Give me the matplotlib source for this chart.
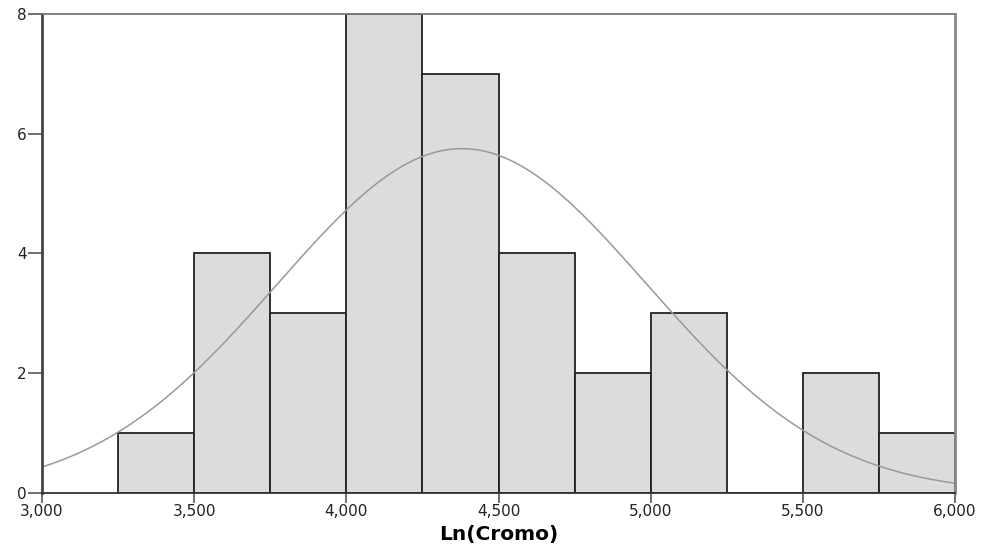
import numpy as np
import matplotlib
matplotlib.use('Agg')
import matplotlib.pyplot as plt
from matplotlib.ticker import FuncFormatter

# Histogram of Ln(Cromo), bin edges and counts
bin_edges = [3.25, 3.50, 3.75, 4.00, 4.25, 4.50, 4.75, 5.00, 5.25, 5.50, 5.75, 6.00]
counts = [1, 4, 3, 8, 7, 4, 2, 3, 0, 2, 1]

# Fitted normal curve parameters
MEAN = 4.38
SD = 0.607
N = sum(counts)
BIN_W = 0.25

x_ticks = [3.0, 3.5, 4.0, 4.5, 5.0, 5.5, 6.0]
y_ticks = [0, 2, 4, 6, 8]

plt.rcParams['font.family'] = ['DejaVu Sans']

fig = plt.figure(figsize=(9.89, 5.55), dpi=100)
ax = fig.add_axes([0.0425, 0.1117, 0.9231, 0.8631])

lefts = bin_edges[:-1]
widths = np.diff(bin_edges)
ax.bar(lefts, counts, width=widths, align='edge', color='#dcdcdc',
       edgecolor='#222222', linewidth=1.3, zorder=2)

xs = np.linspace(3.0, 6.0, 400)
ys = N * BIN_W / (SD * np.sqrt(2 * np.pi)) * np.exp(-(xs - MEAN) ** 2 / (2 * SD ** 2))
ax.plot(xs, ys, color='#999999', linewidth=1.1, zorder=3)

ax.set_xlim(3.0, 6.0)
ax.set_ylim(0, 8)
ax.set_xticks(x_ticks)
ax.set_yticks(y_ticks)
ax.xaxis.set_major_formatter(FuncFormatter(lambda v, p: f'{v:.3f}'.replace('.', ',')))
ax.yaxis.set_major_formatter(FuncFormatter(lambda v, p: f'{int(v)}'))
ax.tick_params(axis='x', direction='out', length=7.2, width=1.2, color='#555555',
               labelsize=11, pad=1, labelcolor='#222222')
ax.tick_params(axis='y', direction='out', length=10, width=1.2, color='#555555',
               labelsize=11, pad=1, labelcolor='#222222')

ax.spines['left'].set_color('#444444')
ax.spines['left'].set_linewidth(2)
ax.spines['bottom'].set_color('#333333')
ax.spines['bottom'].set_linewidth(1.3)
ax.spines['top'].set_color('#777777')
ax.spines['top'].set_linewidth(1.3)
ax.spines['right'].set_color('#888888')
ax.spines['right'].set_linewidth(2)
for sp in ax.spines.values():
    sp.set_zorder(4)

ax.set_xlabel('Ln(Cromo)', fontsize=14.5, fontweight='bold', labelpad=4)

fig.savefig('out.png', dpi=100)
